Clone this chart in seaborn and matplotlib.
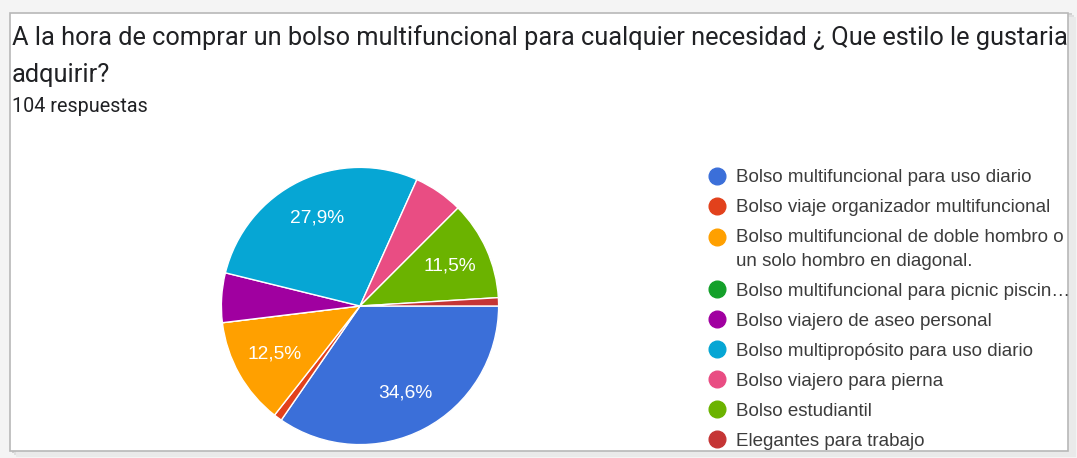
import matplotlib
matplotlib.use('Agg')
import matplotlib.pyplot as plt
from matplotlib.lines import Line2D
from matplotlib.patches import Rectangle
import seaborn as sns

# datos de la encuesta (104 respuestas)
opciones = [
    'Bolso multifuncional para uso diario',
    'Bolso viaje organizador multifuncional',
    'Bolso multifuncional de doble hombro o\nun solo hombro en diagonal.',
    'Bolso multifuncional para picnic piscin…',
    'Bolso viajero de aseo personal',
    'Bolso multipropósito para uso diario',
    'Bolso viajero para pierna',
    'Bolso estudiantil',
    'Elegantes para trabajo',
]
respuestas = [36, 1, 13, 0, 6, 29, 6, 12, 1]
colores = ['#3b6fd9', '#e2411c', '#ffa000', '#14a02a', '#a000a0',
           '#06a6d4', '#e94d83', '#6bb300', '#c53535']

titulo = 'A la hora de comprar un bolso multifuncional para cualquier necesidad ¿ Que estilo le gustaria\nadquirir?'
subtitulo = '104 respuestas'

sns.set_theme(style='white')
plt.rcParams['font.family'] = ['Liberation Sans', 'DejaVu Sans']
paleta = sns.color_palette(colores)

W, H = 1077, 458
fig = plt.figure(figsize=(W / 100, H / 100), dpi=100)
fig.patch.set_facecolor('#f4f4f4')

# tarjeta con sombra
for i, c in enumerate(['#d0d0d0', '#dedede', '#eaeaea']):
    fig.patches.append(Rectangle(((10 + 2 + i * 2) / W, (H - 453 - i * 2) / H),
                                 1060 / W, 440 / H,
                                 transform=fig.transFigure, facecolor=c,
                                 edgecolor='none', zorder=-3))
fig.patches.append(Rectangle((10 / W, (H - 451) / H), 1058 / W, 438 / H,
                             transform=fig.transFigure, facecolor='white',
                             edgecolor='#b8b8b8', linewidth=1.2, zorder=-2))

fuente_titulo = ['Roboto', 'DejaVu Sans']
fig.text(12 / W, 1 - 38 / H, titulo.split('\n')[0], fontsize=18.3,
         family=fuente_titulo, color='#202124', va='center', ha='left')
fig.text(12 / W, 1 - 75 / H, titulo.split('\n')[1], fontsize=18.3,
         family=fuente_titulo, color='#202124', va='center', ha='left')
fig.text(12 / W, 1 - 107 / H, subtitulo, fontsize=14.2,
         family=fuente_titulo, color='#202124', va='center', ha='left')

ax = fig.add_axes([220 / W, 12 / H, 280 / W, 280 / H])


def etiqueta(p):
    return f'{p:.1f}%'.replace('.', ',') if p >= 10 else ''


wedges, textos, autotextos = ax.pie(
    respuestas, colors=paleta, startangle=0, counterclock=False,
    autopct=etiqueta, pctdistance=0.71, radius=1,
    wedgeprops={'edgecolor': 'white', 'linewidth': 1},
    textprops={'color': 'white', 'fontsize': 13.8})
ax.set_xlim(-1.01, 1.01)
ax.set_ylim(-1.01, 1.01)
ax.set_aspect('equal')
ax.axis('off')

handles = [Line2D([0], [0], marker='o', linestyle='none', markersize=12,
                  markerfacecolor=c, markeredgecolor=c) for c in paleta]
leg = fig.legend(handles, opciones, loc='upper left',
                 bbox_to_anchor=(709 / W, 1 - 169 / H), frameon=False,
                 fontsize=13.5, labelcolor='#3c3c3c', handlelength=0.8,
                 handletextpad=0.62, labelspacing=0.69, borderpad=0,
                 borderaxespad=0)
for t in leg.get_texts():
    t.set_linespacing(1.5)

# el punto de la opcion en dos lineas va alineado con la primera linea
for h, texto in zip(leg.legend_handles, opciones):
    if '\n' in texto:
        y = h.get_ydata()
        h.set_ydata([y[0] + 9])

plt.savefig('out.png', dpi=100)
